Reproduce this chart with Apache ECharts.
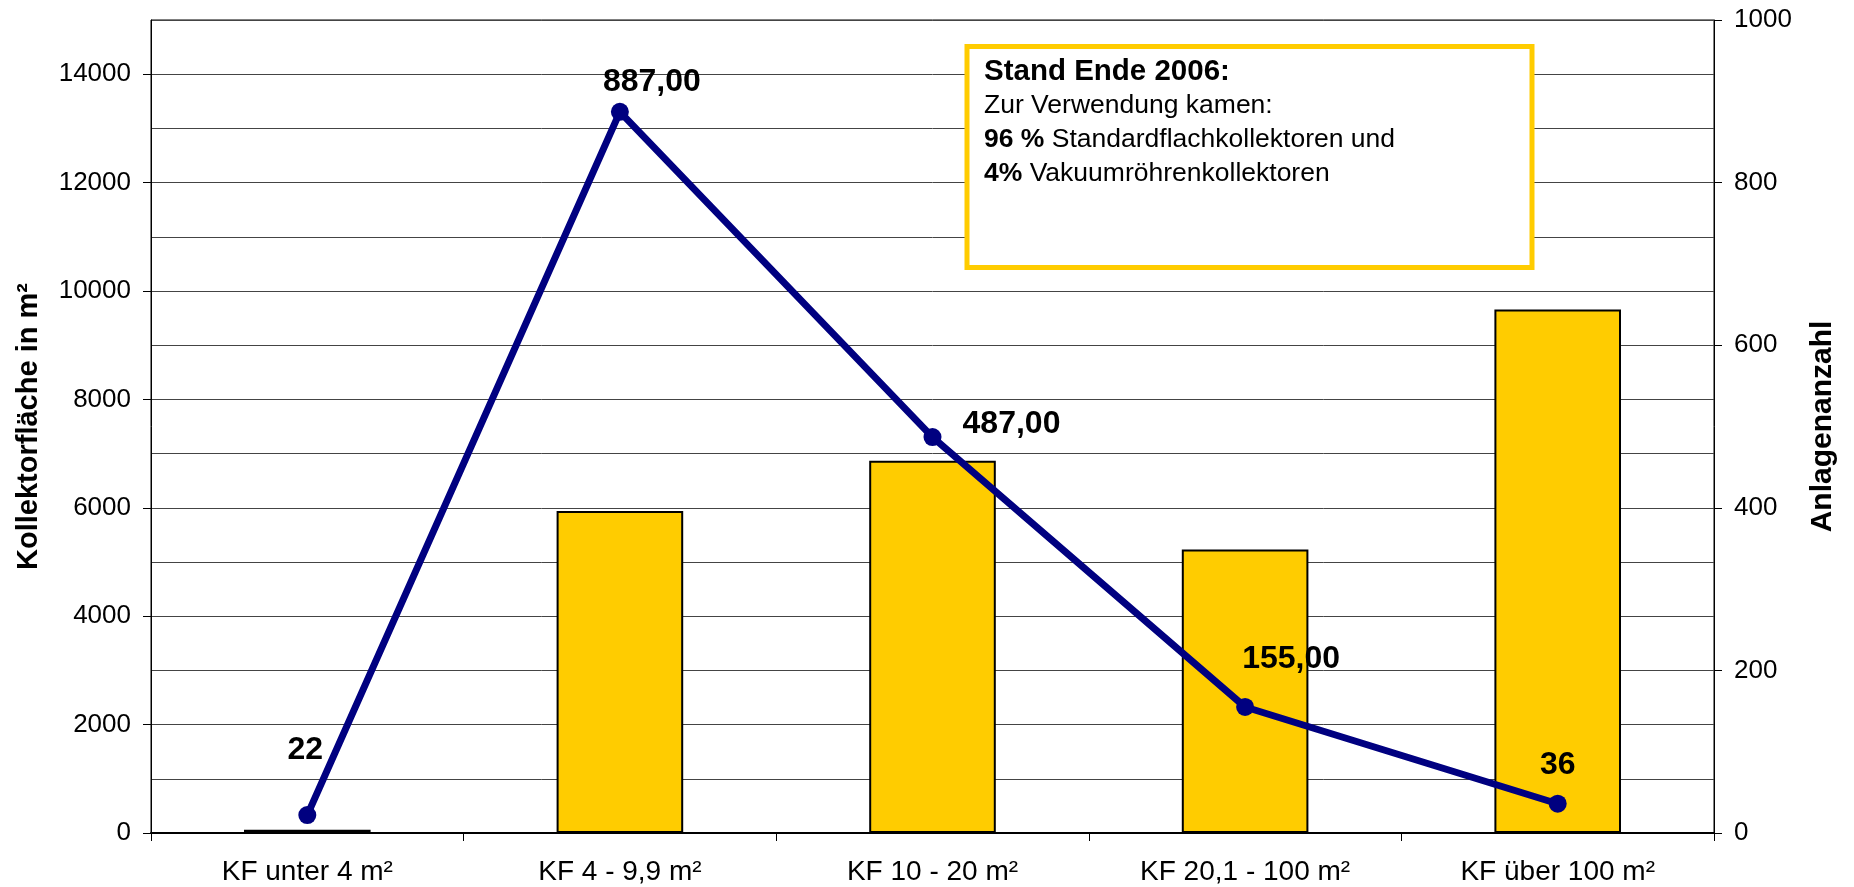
<!DOCTYPE html>
<html>
<head>
<meta charset="utf-8">
<title>Kollektorfläche und Anlagenanzahl</title>
<script src="https://cdn.jsdelivr.net/npm/echarts@6/dist/echarts.min.js"></script>
<style>
  html, body { margin: 0; padding: 0; background: #fff; }
  #chart { width: 1854px; height: 887px; }
</style>
</head>
<body>
<div id="chart"></div>
<script>
// data
const categories = ['KF unter 4 m²', 'KF 4 - 9,9 m²', 'KF 10 - 20 m²', 'KF 20,1 - 100 m²', 'KF über 100 m²'];
const kollektorflaeche = [60, 5940, 6870, 5230, 9660];
const anlagenanzahl = [22, 887, 487, 155, 36];
const anlagenLabels = ['22', '887,00', '487,00', '155,00', '36'];
const leftTicks = [0, 2000, 4000, 6000, 8000, 10000, 12000, 14000];

// label placement for the line values (offset from the point)
const labelOffsets = [[-2, -65], [32, -30], [79, -13], [46, -48], [0, -39]];

const FONT = '"Liberation Sans", Arial, sans-serif';

let chart = echarts.init(document.getElementById('chart'));

chart.setOption({
  animation: false,
  textStyle: { fontFamily: FONT, color: '#000' },
  grid: {
    left: 151, right: 140, top: 20, bottom: 54,
    show: true, borderColor: '#000', borderWidth: 1
  },
  xAxis: {
    type: 'category',
    data: categories,
    boundaryGap: true,
    axisLine: { lineStyle: { color: '#000', width: 2 } },
    axisTick: { show: true, length: 8, lineStyle: { color: '#000' } },
    axisLabel: { fontSize: 28, color: '#000', margin: 25, fontFamily: FONT }
  },
  yAxis: [
    {
      type: 'value',
      min: 0,
      max: 15000,
      interval: 1000,
      name: 'Kollektorfläche in m²',
      nameLocation: 'middle',
      nameGap: 108,
      nameRotate: 90,
      nameTextStyle: { fontSize: 29, fontWeight: 'bold', color: '#000', fontFamily: FONT },
      axisLine: { show: true, lineStyle: { color: '#000' } },
      axisTick: { show: true, length: 8, customValues: leftTicks, lineStyle: { color: '#000' } },
      axisLabel: {
        fontSize: 26, color: '#000', margin: 20, fontFamily: FONT,
        customValues: leftTicks,
        formatter: v => (v % 2000 === 0 && v < 15000) ? String(v) : ''
      },
      splitLine: { show: false }
    },
    {
      type: 'value',
      position: 'right',
      min: 0,
      max: 1000,
      interval: 200,
      name: 'Anlagenanzahl',
      nameLocation: 'middle',
      nameGap: 94,
      nameRotate: 90,
      nameTextStyle: { fontSize: 30, fontWeight: 'bold', color: '#000', fontFamily: FONT },
      axisLine: { show: true, lineStyle: { color: '#000' } },
      axisTick: { show: true, length: 8, lineStyle: { color: '#000' } },
      axisLabel: { fontSize: 26, color: '#000', margin: 20, fontFamily: FONT, formatter: v => String(v) },
      splitLine: { show: false }
    },
    {
      // grid lines every 1000, no labels
      type: 'value',
      position: 'left',
      min: 0,
      max: 15000,
      interval: 1000,
      axisLine: { show: false },
      axisTick: { show: false },
      axisLabel: { show: false },
      splitLine: { show: true, lineStyle: { color: '#444', width: 1 } }
    }
  ],
  series: [
    {
      name: 'Kollektorfläche',
      type: 'bar',
      yAxisIndex: 0,
      barWidth: '40.5%',
      data: kollektorflaeche,
      itemStyle: { color: '#FFCC00', borderColor: '#000', borderWidth: 2 }
    },
    {
      name: 'Anlagenanzahl',
      type: 'line',
      yAxisIndex: 1,
      z: 5,
      data: anlagenanzahl.map((v, i) => ({
        value: v,
        label: { offset: labelOffsets[i] }
      })),
      symbol: 'circle',
      symbolSize: 18,
      lineStyle: { color: '#000080', width: 7 },
      itemStyle: { color: '#000080' },
      label: {
        show: true,
        position: 'inside',
        fontSize: 32,
        fontWeight: 'bold',
        color: '#000',
        fontFamily: FONT,
        formatter: p => anlagenLabels[p.dataIndex]
      }
    }
  ],
  graphic: [
    {
      type: 'rect',
      left: 964.5,
      top: 44,
      shape: { width: 565, height: 221 },
      style: { fill: '#fff', stroke: '#FFCC00', lineWidth: 5 },
      z: 10
    },
    {
      type: 'text',
      left: 984,
      top: 57,
      z: 11,
      style: {
        text: '{h|Stand Ende 2006:}\n{n|Zur Verwendung kamen:}\n{b|96 %}{n| Standardflachkollektoren und}\n{b|4%}{n| Vakuumröhrenkollektoren}',
        rich: {
          h: { fontSize: 29.5, fontWeight: 'bold', fontFamily: FONT, lineHeight: 34, fill: '#000' },
          b: { fontSize: 26.5, fontWeight: 'bold', fontFamily: FONT, lineHeight: 34, fill: '#000' },
          n: { fontSize: 26.5, fontFamily: FONT, lineHeight: 34, fill: '#000' }
        }
      }
    }
  ]
});
</script>
</body>
</html>
